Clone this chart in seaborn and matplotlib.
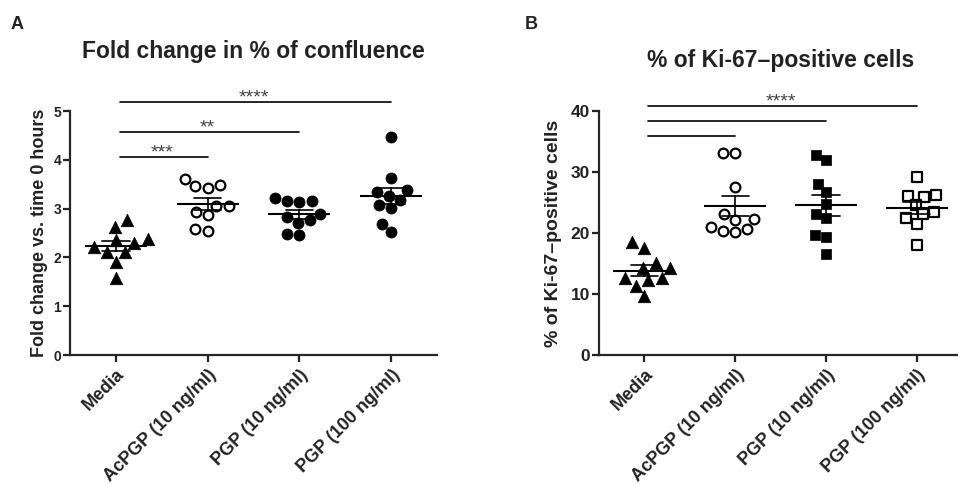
import matplotlib
matplotlib.use("Agg")
import matplotlib.pyplot as plt
import seaborn as sns
import numpy as np
import pandas as pd

# ---------------- data ----------------
GROUPS = ["Media", "AcPGP (10 ng/ml)", "PGP (10 ng/ml)", "PGP (100 ng/ml)"]

# Panel A: fold change in % of confluence
conf_media = [2.35, 2.62, 2.76, 2.30, 2.38, 2.11, 2.11, 2.21, 1.90, 1.57]
conf_acpgp = [3.42, 3.61, 3.46, 3.48, 3.06, 3.05, 2.94, 2.87, 2.54, 2.59]
conf_pgp10 = [3.13, 3.22, 3.16, 3.16, 2.90, 2.82, 2.70, 2.77, 2.46, 2.48]
conf_pgp100 = [4.47, 3.63, 3.39, 3.26, 3.34, 3.18, 3.02, 3.07, 2.53, 2.69]

# Panel B: % of Ki-67-positive cells
ki67_media = [17.6, 18.6, 14.3, 15.1, 14.3, 11.3, 12.6, 12.3, 12.6, 9.6]
ki67_acpgp = [33.2, 33.2, 27.6, 22.2, 22.3, 23.1, 20.2, 21.0, 20.4, 20.6]
ki67_pgp10 = [32.0, 32.8, 28.0, 26.8, 24.7, 22.5, 23.1, 19.3, 19.7, 16.5]
ki67_pgp100 = [29.2, 25.9, 26.0, 26.2, 24.6, 23.1, 23.5, 22.4, 21.5, 18.0]

# significance brackets: (from group, to group, height, label)
brackets_a = [(0, 3, 5.18, "****"), (0, 2, 4.57, "**"), (0, 1, 4.05, "***")]
brackets_b = [(0, 3, 40.8, "****"), (0, 2, 38.4, ""), (0, 1, 35.9, "")]

# ---------------- style ----------------
sns.set_style("ticks")
plt.rcParams.update({
    "font.family": ["Liberation Sans", "DejaVu Sans"],
    "font.weight": "bold",
    "axes.labelweight": "bold",
    "axes.titleweight": "bold",
    "axes.linewidth": 1.6,
    "text.color": "#222222",
    "axes.labelcolor": "#222222",
    "xtick.color": "#222222",
    "ytick.color": "#222222",
})

# marker, filled, size
markers_a = [("^", True, 9), ("o", False, 7), ("o", True, 8), ("o", True, 8)]
markers_b = [("^", True, 9), ("o", False, 7), ("s", True, 7), ("s", False, 6.5)]


def make_df(series):
    rows = []
    for g, vals in zip(GROUPS, series):
        for v in vals:
            rows.append({"group": g, "value": v})
    return pd.DataFrame(rows)


def draw_panel(ax, df, markers, brackets, ylim, yticks):
    for g, (m, filled, sz) in zip(GROUPS, markers):
        sub = df[df["group"] == g]
        sns.swarmplot(data=sub, x="group", y="value", order=GROUPS, ax=ax,
                      marker=m, size=sz,
                      color="black" if filled else "white",
                      edgecolor="black", linewidth=0.5 if filled else 1.6,
                      zorder=3)
    # mean +/- SEM
    sns.pointplot(data=df, x="group", y="value", order=GROUPS, ax=ax,
                  errorbar="se", capsize=0.3, color="black",
                  linestyle="none", marker="_", markersize=44,
                  markeredgewidth=1.5, err_kws={"linewidth": 1.2}, zorder=5)
    for i, j, h, lab in brackets:
        ax.plot([i + 0.04, j], [h, h], color="black", lw=1.2, clip_on=False)
        if lab:
            ax.text((i + j) / 2, h, lab, ha="center", va="baseline",
                    fontsize=14, fontweight="normal", color="#444444")
    ax.set_xlim(-0.5, 3.5)
    ax.set_ylim(*ylim)
    ax.set_yticks(yticks)
    ax.set_xlabel("")
    sns.despine(ax=ax)
    ax.tick_params(axis="both", width=1.6, length=5, pad=1.5)
    ax.tick_params(axis="x", labelsize=13, pad=3)
    plt.setp(ax.get_xticklabels(), rotation=45, ha="right",
             rotation_mode="anchor")


fig = plt.figure(figsize=(9.58, 4.86), dpi=100)
ax_a = fig.add_axes([0.0731, 0.2695, 0.383, 0.502])
ax_b = fig.add_axes([0.6253, 0.2695, 0.379, 0.502])

df_a = make_df([conf_media, conf_acpgp, conf_pgp10, conf_pgp100])
df_b = make_df([ki67_media, ki67_acpgp, ki67_pgp10, ki67_pgp100])

draw_panel(ax_a, df_a, markers_a, brackets_a, (0, 5), range(0, 6))
draw_panel(ax_b, df_b, markers_b, brackets_b, (0, 40), range(0, 41, 10))

ax_a.tick_params(axis="y", labelsize=10)
ax_b.tick_params(axis="y", labelsize=12.5)
ax_a.set_ylabel("Fold change vs. time 0 hours", fontsize=13, labelpad=4)
ax_b.set_ylabel("% of Ki-67\u2013positive cells", fontsize=14, labelpad=6)

ax_a.set_title("Fold change in % of confluence", fontsize=16.5, pad=38)
ax_b.set_title("% of Ki-67\u2013positive cells", fontsize=16.5, pad=32)

fig.text(0.011, 0.95, "A", fontsize=13, fontweight="bold", va="center")
fig.text(0.548, 0.95, "B", fontsize=13, fontweight="bold", va="center")

fig.savefig("out.png", dpi=100)
